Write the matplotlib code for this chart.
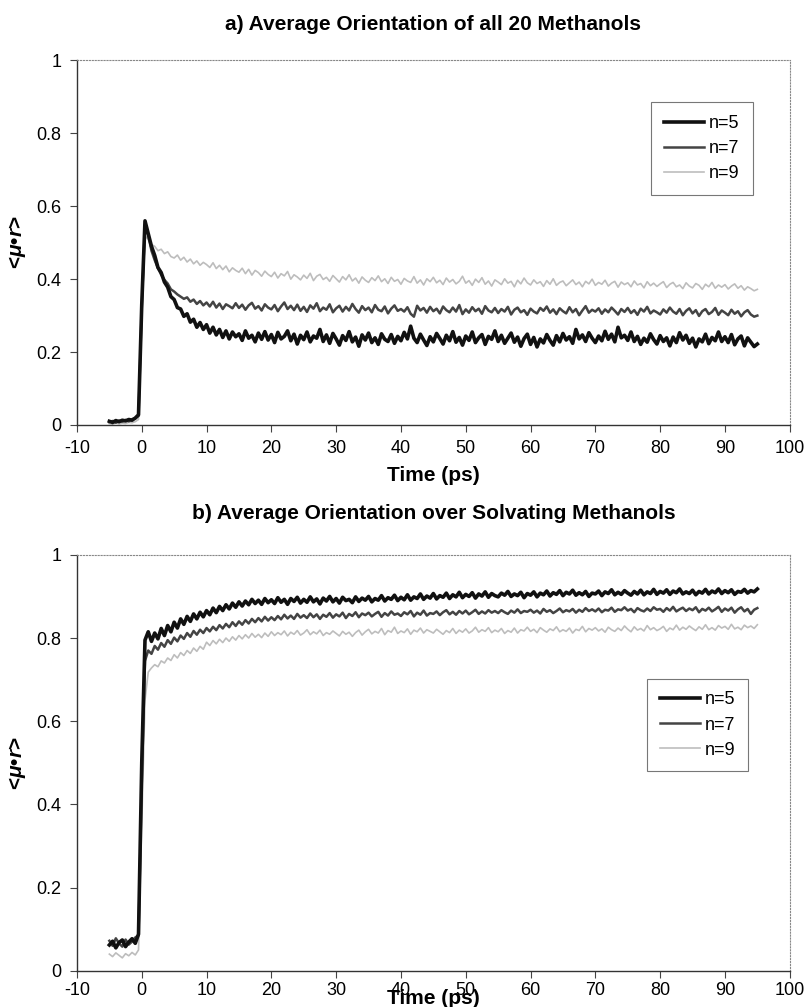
import matplotlib
matplotlib.use("Agg")
import matplotlib.pyplot as plt
import numpy as np

plt.rcParams['font.family'] = ['Liberation Sans', 'DejaVu Sans']
plt.rcParams['mathtext.fontset'] = 'custom'
plt.rcParams['mathtext.it'] = 'Liberation Sans:bold:italic'
plt.rcParams['mathtext.rm'] = 'Liberation Sans:bold'
plt.rcParams['axes.unicode_minus'] = False

# time axis: -5 ps .. 95 ps every 0.5 ps
time = np.arange(-5.0, 95.01, 0.5)

# a) all 20 methanols
a_n5 = [0.010, 0.007, 0.012, 0.009, 0.013, 0.011, 0.015, 0.013, 0.019, 0.028,
        0.330, 0.560, 0.525, 0.490, 0.465, 0.432, 0.418, 0.392, 0.378, 0.352,
        0.344, 0.322, 0.318, 0.298, 0.305, 0.282, 0.290, 0.268, 0.281, 0.262,
        0.275, 0.252, 0.268, 0.247, 0.262, 0.240, 0.258, 0.236, 0.255, 0.242,
        0.250, 0.232, 0.258, 0.238, 0.246, 0.228, 0.252, 0.235, 0.256, 0.233,
        0.248, 0.226, 0.254, 0.236, 0.243, 0.258, 0.231, 0.249, 0.222, 0.246,
        0.234, 0.255, 0.228, 0.244, 0.238, 0.262, 0.229, 0.247, 0.224, 0.251,
        0.236, 0.219, 0.245, 0.232, 0.256, 0.228, 0.241, 0.216, 0.247, 0.233,
        0.252, 0.226, 0.239, 0.221, 0.250, 0.235, 0.229, 0.248, 0.224, 0.243,
        0.231, 0.254, 0.236, 0.271, 0.238, 0.226, 0.249, 0.233, 0.218, 0.242,
        0.228, 0.251, 0.237, 0.222, 0.246, 0.231, 0.256, 0.227, 0.240, 0.219,
        0.244, 0.232, 0.255, 0.226, 0.239, 0.248, 0.221, 0.243, 0.235, 0.258,
        0.229, 0.246, 0.224, 0.238, 0.252, 0.227, 0.241, 0.216, 0.237, 0.249,
        0.221, 0.240, 0.214, 0.236, 0.225, 0.248, 0.232, 0.219, 0.245, 0.228,
        0.251, 0.233, 0.242, 0.224, 0.262, 0.236, 0.247, 0.229, 0.253, 0.238,
        0.226, 0.244, 0.231, 0.257, 0.235, 0.249, 0.228, 0.268, 0.239, 0.246,
        0.232, 0.255, 0.229, 0.243, 0.221, 0.238, 0.227, 0.250, 0.234, 0.222,
        0.245, 0.229, 0.239, 0.217, 0.241, 0.226, 0.253, 0.233, 0.246, 0.224,
        0.238, 0.214, 0.236, 0.228, 0.249, 0.223, 0.240, 0.231, 0.255, 0.229,
        0.242, 0.226, 0.248, 0.220, 0.236, 0.244, 0.217, 0.239, 0.227, 0.215,
        0.222]
a_n7 = [0.008, 0.011, 0.006, 0.012, 0.009, 0.014, 0.010, 0.016, 0.018, 0.025,
        0.320, 0.550, 0.520, 0.478, 0.452, 0.430, 0.412, 0.398, 0.388, 0.372,
        0.366, 0.358, 0.352, 0.346, 0.350, 0.338, 0.344, 0.332, 0.340, 0.328,
        0.336, 0.325, 0.338, 0.322, 0.333, 0.318, 0.331, 0.326, 0.320, 0.334,
        0.321, 0.330, 0.316, 0.328, 0.335, 0.319, 0.326, 0.314, 0.331, 0.322,
        0.317, 0.329, 0.312, 0.325, 0.336, 0.318, 0.327, 0.315, 0.330, 0.313,
        0.324, 0.310, 0.328, 0.319, 0.334, 0.312, 0.322, 0.316, 0.331, 0.309,
        0.320, 0.327, 0.311, 0.324, 0.314, 0.332, 0.318, 0.308, 0.326, 0.315,
        0.322, 0.309, 0.329, 0.316, 0.312, 0.325, 0.306, 0.319, 0.328, 0.313,
        0.318, 0.311, 0.323, 0.305, 0.297, 0.327, 0.314, 0.321, 0.308, 0.324,
        0.312, 0.319, 0.306, 0.325, 0.315, 0.309, 0.322, 0.311, 0.329, 0.304,
        0.317, 0.308, 0.323, 0.312, 0.319, 0.305, 0.326, 0.314, 0.309, 0.321,
        0.307, 0.318, 0.311, 0.324, 0.303, 0.316, 0.322, 0.309, 0.315, 0.302,
        0.319, 0.311, 0.306, 0.321, 0.313, 0.325, 0.308, 0.317, 0.304, 0.320,
        0.312, 0.306, 0.323, 0.309, 0.318, 0.301, 0.314, 0.326, 0.308, 0.316,
        0.311, 0.320, 0.305, 0.317, 0.309, 0.322, 0.313, 0.303, 0.318, 0.310,
        0.321, 0.307, 0.315, 0.302, 0.319, 0.311, 0.324, 0.306, 0.314, 0.309,
        0.303, 0.317, 0.308, 0.322, 0.311, 0.305, 0.318, 0.301, 0.313, 0.320,
        0.306, 0.315, 0.299, 0.312, 0.318, 0.304, 0.310, 0.321, 0.302, 0.314,
        0.308, 0.301, 0.316, 0.305, 0.312, 0.298, 0.309, 0.315, 0.303, 0.297,
        0.300]
a_n9 = [0.004, 0.002, 0.006, 0.003, 0.005, 0.004, 0.007, 0.006, 0.009, 0.015,
        0.300, 0.520, 0.508, 0.495, 0.490, 0.478, 0.482, 0.470, 0.475, 0.462,
        0.458, 0.466, 0.452, 0.460, 0.447, 0.455, 0.442, 0.450, 0.438, 0.446,
        0.440, 0.432, 0.445, 0.429, 0.438, 0.426, 0.436, 0.420, 0.431, 0.424,
        0.419, 0.430, 0.415, 0.427, 0.411, 0.424, 0.418, 0.408, 0.422, 0.413,
        0.407, 0.419, 0.403, 0.415, 0.409, 0.421, 0.400, 0.412, 0.406, 0.398,
        0.411, 0.402, 0.416, 0.396, 0.408, 0.413, 0.399, 0.405, 0.394, 0.410,
        0.401, 0.392, 0.407, 0.398, 0.412, 0.395, 0.403, 0.389, 0.406, 0.397,
        0.391, 0.404, 0.396, 0.409, 0.393, 0.401, 0.388, 0.405, 0.394, 0.399,
        0.386, 0.402, 0.395, 0.391, 0.407, 0.389, 0.398, 0.384, 0.401, 0.393,
        0.405, 0.390, 0.397, 0.385, 0.403, 0.392, 0.399, 0.387, 0.394, 0.408,
        0.389, 0.396, 0.383, 0.400, 0.391, 0.404, 0.386, 0.395, 0.381, 0.398,
        0.392, 0.385, 0.401, 0.389, 0.394, 0.379, 0.397, 0.387, 0.403, 0.390,
        0.384, 0.398, 0.388, 0.393, 0.380, 0.396, 0.386, 0.401, 0.383, 0.391,
        0.395, 0.382, 0.390, 0.398, 0.385, 0.392, 0.379, 0.394, 0.387, 0.400,
        0.383, 0.391, 0.386, 0.397, 0.381, 0.389, 0.394, 0.378, 0.392, 0.385,
        0.390, 0.379, 0.395, 0.384, 0.388, 0.376, 0.393, 0.382, 0.389, 0.380,
        0.387, 0.393, 0.377, 0.386, 0.391, 0.379, 0.384, 0.374, 0.390, 0.381,
        0.376, 0.388, 0.383, 0.372, 0.386, 0.379, 0.391, 0.375, 0.384, 0.378,
        0.385, 0.373, 0.381, 0.387, 0.375, 0.382, 0.370, 0.379, 0.374, 0.368,
        0.372]

# b) solvating methanols
b_n5 = [0.062, 0.071, 0.055, 0.068, 0.074, 0.058, 0.069, 0.077, 0.066, 0.088,
        0.500, 0.795, 0.815, 0.792, 0.812, 0.798, 0.823, 0.806, 0.830, 0.815,
        0.838, 0.824, 0.846, 0.833, 0.852, 0.840, 0.858, 0.846, 0.862, 0.851,
        0.866, 0.856, 0.872, 0.861, 0.876, 0.866, 0.880, 0.870, 0.884, 0.874,
        0.887, 0.877, 0.889, 0.880, 0.893, 0.883, 0.891, 0.881, 0.895, 0.885,
        0.892, 0.883, 0.897, 0.886, 0.893, 0.881, 0.895, 0.888, 0.898, 0.884,
        0.893, 0.886, 0.899, 0.887, 0.894, 0.882, 0.896, 0.889, 0.900, 0.887,
        0.895, 0.884, 0.898, 0.890, 0.893, 0.885, 0.899, 0.888, 0.896, 0.891,
        0.900, 0.887, 0.895, 0.891, 0.902, 0.889, 0.897, 0.893, 0.903, 0.890,
        0.898, 0.892, 0.904, 0.891, 0.899, 0.895, 0.906, 0.893, 0.901, 0.896,
        0.907, 0.894, 0.902, 0.898, 0.908, 0.895, 0.904, 0.899, 0.910, 0.897,
        0.905, 0.900, 0.909, 0.896, 0.906, 0.901, 0.911, 0.898, 0.907, 0.902,
        0.899, 0.908, 0.903, 0.912, 0.900, 0.906, 0.902, 0.910, 0.897, 0.907,
        0.903, 0.911, 0.899, 0.908, 0.904, 0.913, 0.901, 0.909, 0.905, 0.914,
        0.902, 0.910, 0.906, 0.915, 0.903, 0.909, 0.904, 0.912, 0.900, 0.908,
        0.906, 0.913, 0.902, 0.911, 0.907, 0.916, 0.904, 0.910, 0.905, 0.914,
        0.908, 0.903, 0.912, 0.906, 0.915, 0.904, 0.911, 0.907, 0.917, 0.905,
        0.912, 0.908, 0.916, 0.905, 0.913, 0.909, 0.918, 0.906, 0.911, 0.907,
        0.915, 0.904, 0.912, 0.908, 0.917, 0.906, 0.913, 0.909, 0.918, 0.907,
        0.914, 0.909, 0.916, 0.905, 0.912, 0.910, 0.917, 0.908, 0.914, 0.911,
        0.918]
b_n7 = [0.072, 0.060, 0.078, 0.066, 0.058, 0.075, 0.063, 0.070, 0.080, 0.085,
        0.450, 0.745, 0.770, 0.762, 0.781, 0.772, 0.788, 0.779, 0.795, 0.786,
        0.801, 0.792, 0.806, 0.798, 0.812, 0.803, 0.817, 0.808, 0.820, 0.812,
        0.824, 0.816, 0.827, 0.819, 0.831, 0.823, 0.834, 0.826, 0.838, 0.829,
        0.840, 0.832, 0.843, 0.835, 0.846, 0.838, 0.848, 0.840, 0.851, 0.842,
        0.850, 0.843, 0.853, 0.845, 0.856, 0.847, 0.854, 0.846, 0.858, 0.849,
        0.855, 0.848, 0.859, 0.850, 0.857, 0.846, 0.856, 0.851, 0.860, 0.849,
        0.857, 0.852, 0.861, 0.848, 0.858, 0.853, 0.862, 0.850, 0.859, 0.855,
        0.861, 0.852, 0.858, 0.863, 0.851, 0.860, 0.854, 0.864, 0.856, 0.859,
        0.853, 0.862, 0.857, 0.865, 0.852, 0.861, 0.856, 0.866, 0.854, 0.860,
        0.858, 0.864, 0.855, 0.862, 0.867, 0.857, 0.863, 0.856, 0.865, 0.859,
        0.866, 0.857, 0.862, 0.868, 0.858, 0.864, 0.859, 0.867, 0.861, 0.865,
        0.860, 0.867, 0.862, 0.858, 0.866, 0.861, 0.869, 0.860, 0.865, 0.863,
        0.868, 0.861, 0.866, 0.859, 0.870, 0.863, 0.867, 0.860, 0.865, 0.871,
        0.862, 0.867, 0.864, 0.870, 0.861, 0.868, 0.863, 0.872, 0.865, 0.869,
        0.864, 0.871, 0.862, 0.868, 0.866, 0.873, 0.863, 0.869, 0.867, 0.874,
        0.866, 0.870, 0.862, 0.872, 0.867, 0.864, 0.871, 0.865, 0.874, 0.868,
        0.870, 0.863, 0.872, 0.866, 0.875, 0.864, 0.869, 0.873, 0.865, 0.871,
        0.867, 0.874, 0.862, 0.870, 0.866, 0.873, 0.864, 0.869, 0.875, 0.863,
        0.871, 0.866, 0.873, 0.861, 0.869, 0.874, 0.864, 0.870, 0.858, 0.868,
        0.872]
b_n9 = [0.040, 0.034, 0.043, 0.037, 0.031, 0.041, 0.036, 0.044, 0.038, 0.050,
        0.350, 0.650, 0.718, 0.728, 0.736, 0.731, 0.745, 0.740, 0.752, 0.746,
        0.760, 0.752, 0.765, 0.758, 0.770, 0.763, 0.776, 0.768, 0.780, 0.773,
        0.790, 0.782, 0.794, 0.786, 0.797, 0.789, 0.800, 0.792, 0.803, 0.795,
        0.806, 0.798, 0.808, 0.800, 0.811, 0.802, 0.809, 0.801, 0.812, 0.804,
        0.815, 0.806, 0.813, 0.808, 0.817, 0.805, 0.814, 0.809, 0.818, 0.807,
        0.812, 0.820, 0.808, 0.815, 0.810, 0.819, 0.806, 0.813, 0.809, 0.817,
        0.811, 0.805, 0.816, 0.809, 0.814, 0.804, 0.813, 0.819, 0.807, 0.815,
        0.821, 0.810, 0.816, 0.812, 0.823, 0.808, 0.818, 0.814, 0.826, 0.811,
        0.817, 0.813, 0.822, 0.809, 0.819, 0.815, 0.824, 0.812, 0.820, 0.816,
        0.812, 0.821, 0.815, 0.809, 0.818, 0.813, 0.823, 0.811, 0.819, 0.814,
        0.822, 0.812, 0.817, 0.826, 0.814, 0.820, 0.816, 0.825, 0.813, 0.819,
        0.815, 0.823, 0.811, 0.818, 0.814, 0.824, 0.812, 0.820, 0.817, 0.826,
        0.816, 0.821, 0.813, 0.825, 0.819, 0.814, 0.822, 0.818, 0.827, 0.815,
        0.820, 0.816, 0.824, 0.812, 0.821, 0.818, 0.828, 0.815, 0.823, 0.819,
        0.825, 0.817, 0.822, 0.814, 0.826, 0.820, 0.816, 0.824, 0.818, 0.829,
        0.821, 0.815, 0.827, 0.819, 0.823, 0.817, 0.830, 0.820, 0.825, 0.818,
        0.822, 0.828, 0.816, 0.824, 0.820, 0.831, 0.819, 0.826, 0.821, 0.829,
        0.823, 0.818, 0.827, 0.821, 0.832, 0.820, 0.825, 0.819, 0.830, 0.824,
        0.828, 0.821, 0.833, 0.822, 0.826, 0.820, 0.831, 0.825, 0.829, 0.823,
        0.832]

labels = ['n=5', 'n=7', 'n=9']
colors = ['#111111', '#444444', '#bdbdbd']
widths = [2.6, 1.8, 1.2]
titles = ['a) Average Orientation of all 20 Methanols',
          'b) Average Orientation over Solvating Methanols']

fig = plt.figure(figsize=(8.1, 10.07), dpi=100)
ax_a = fig.add_axes([0.095, 0.578, 0.880, 0.362])
ax_b = fig.add_axes([0.095, 0.036, 0.880, 0.413])

panels = [(ax_a, [a_n5, a_n7, a_n9], (0.806, 0.885)),
          (ax_b, [b_n5, b_n7, b_n9], (0.800, 0.702))]

for ax, series, leg_pos in panels:
    handles = []
    for i in [2, 1, 0]:
        line, = ax.plot(time, series[i], color=colors[i], lw=widths[i],
                        label=labels[i], zorder=3 - i)
        handles.insert(0, line)
    ax.set_xlim(-10, 100)
    ax.set_ylim(0, 1)
    ax.set_xticks(np.arange(-10, 101, 10))
    ax.set_yticks([0, 0.2, 0.4, 0.6, 0.8, 1])
    ax.set_yticklabels(['0', '0.2', '0.4', '0.6', '0.8', '1'])
    ax.tick_params(axis='both', labelsize=13, direction='out', length=5,
                   width=0.8, color='#444444', pad=6)
    for s in ['left', 'bottom']:
        ax.spines[s].set_color('#333333')
        ax.spines[s].set_linewidth(1.0)
    for s in ['top', 'right']:
        ax.spines[s].set_color('#888888')
        ax.spines[s].set_linewidth(0.8)
        ax.spines[s].set_linestyle(':')
    ax.set_ylabel(r'<$\mu$•$r$>', fontsize=15, fontweight='bold', labelpad=6)
    leg = ax.legend(handles=handles, loc='upper left', bbox_to_anchor=leg_pos,
                    borderaxespad=0, fontsize=13, frameon=True, fancybox=False,
                    edgecolor='#555555', handlelength=2.2, handletextpad=0.3,
                    borderpad=0.7, labelspacing=0.45)
    leg.get_frame().set_linewidth(0.8)

ax_a.set_xlabel('Time (ps)', fontsize=15, fontweight='bold', labelpad=6)
ax_b.set_xlabel('Time (ps)', fontsize=15, fontweight='bold')
ax_b.tick_params(axis='x', pad=3)
ax_b.xaxis.set_label_coords(0.5, -0.045)
ax_a.set_title(titles[0], fontsize=15, fontweight='bold', pad=22)
ax_b.set_title(titles[1], fontsize=15, fontweight='bold', pad=26)

fig.savefig('out.png', dpi=100)
